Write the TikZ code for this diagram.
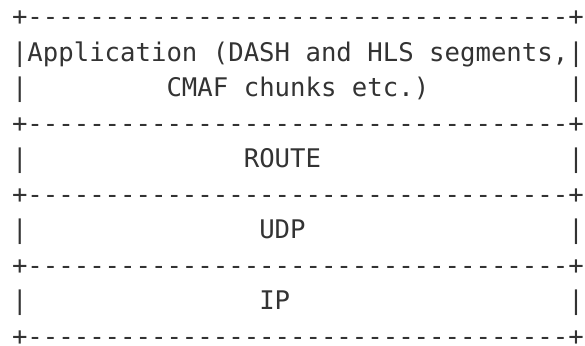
\documentclass[tikz,border=0pt]{standalone}
\usepackage{fontspec}
\setmonofont{DejaVu Sans Mono}
\usepackage{tikz}
\definecolor{asciigray}{RGB}{51, 51, 51}

\begin{document}
\begin{tikzpicture}[
  x=11.59pt, y=-26.625pt,
  ascii/.style={anchor=base west, inner sep=0pt, outer sep=0pt, text=asciigray,
    text depth=0pt, font=\ttfamily\fontsize{19.25pt}{26.6pt}\selectfont}
]

  \useasboundingbox (0,0) rectangle (37.856,9.746);

  \begin{scope}[shift={(0.777,0.725)}]
    % borders between the layers
    \foreach \r/\n in {0/edgetop, 3/edgeapp, 5/edgeroute, 7/edgeudp, 9/edgeip}
      \node[ascii] (\n) at (0,\r) {+-----------------------------------+};

    % side bars
    \foreach \r in {2,4,6,8} {
      \node[ascii] (barl\r) at (0,\r) {|};
      \node[ascii] (barr\r) at (36,\r) {|};
    }

    \node[ascii] (app) at (0,1) {|Application (DASH and HLS segments,|};
    \node[ascii] (cmaf) at (10,2) {CMAF chunks etc.)};
    \node[ascii] (route) at (15,4) {ROUTE};
    \node[ascii] (udp) at (16,6) {UDP};
    \node[ascii] (ip) at (16,8) {IP};
  \end{scope}

\end{tikzpicture}
\end{document}
